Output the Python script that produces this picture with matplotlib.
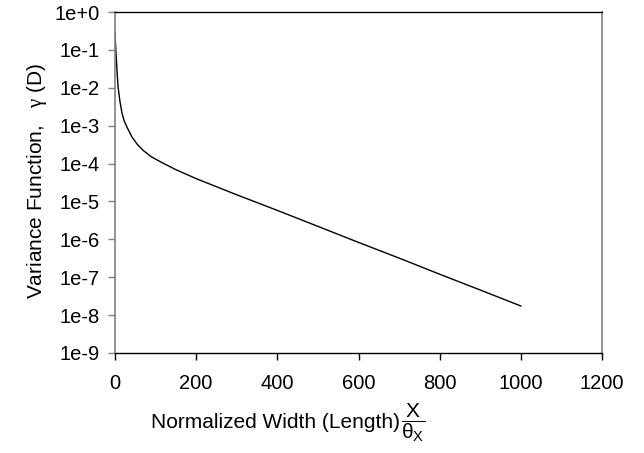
import matplotlib
matplotlib.use('Agg')
import matplotlib.pyplot as plt

plt.rcParams['font.family'] = ['Liberation Sans', 'DejaVu Sans']
plt.rcParams['mathtext.fontset'] = 'custom'
plt.rcParams['mathtext.rm'] = 'Liberation Sans'
plt.rcParams['mathtext.it'] = 'Liberation Serif'

# 曲线数据
width = [0, 1, 2.5, 5, 7.5, 12, 17, 22, 30, 42, 55, 70, 90, 115, 150, 200,
         300, 400, 500, 600, 700, 800, 900, 1000]
variance = [3.0e-1, 1.6e-1, 8.1e-2, 2.8e-2, 1.07e-2, 4.5e-3, 2.2e-3, 1.4e-3,
            8.9e-4, 5.0e-4, 3.2e-4, 2.2e-4, 1.5e-4, 1.07e-4, 6.9e-5, 4.0e-5,
            1.5e-5, 5.8e-6, 2.2e-6, 8.3e-7, 3.2e-7, 1.2e-7, 4.6e-8, 1.74e-8]

x_ticks = [0, 200, 400, 600, 800, 1000, 1200]
y_ticks = [1e-9, 1e-8, 1e-7, 1e-6, 1e-5, 1e-4, 1e-3, 1e-2, 1e-1, 1e0]
y_labels = ['1e-9', '1e-8', '1e-7', '1e-6', '1e-5', '1e-4', '1e-3',
            '1e-2', '1e-1', '1e+0']

fig = plt.figure(figsize=(6.44, 4.53), dpi=100)
ax = fig.add_axes([115 / 644, 1 - 353 / 453, 487 / 644, 341 / 453])

ax.plot(width, variance, color='black', lw=1.0)

ax.set_yscale('log')
ax.set_xlim(0, 1200)
ax.set_ylim(1e-9, 1)
ax.set_xticks(x_ticks)
ax.set_xticklabels([str(t) for t in x_ticks])
ax.set_yticks(y_ticks)
ax.set_yticklabels(y_labels)
ax.yaxis.set_minor_locator(matplotlib.ticker.NullLocator())

ax.tick_params(axis='both', labelsize=14.5, direction='out', length=5,
               width=1)
ax.tick_params(axis='y', colors='#808080', labelcolor='black', pad=6)
ax.tick_params(axis='x', colors='black', labelcolor='black', pad=10)

for side in ['left', 'right']:
    ax.spines[side].set_color('#808080')
    ax.spines[side].set_linewidth(1.2)
for side in ['top', 'bottom']:
    ax.spines[side].set_color('black')
    ax.spines[side].set_linewidth(1.0)

# 坐标轴标题
fig.text(37 / 644, 1 - 181 / 453, r'Variance Function,   $\gamma$ (D)',
         rotation=90, ha='center', va='center', fontsize=15)
fig.text(400 / 644, 1 - 422 / 453, 'Normalized Width (Length)',
         ha='right', va='center', fontsize=15)
fig.text(401 / 644, 1 - 423 / 453, r'$\dfrac{\mathrm{X}}{\mathrm{θ}_\mathrm{X}}$',
         ha='left', va='center', fontsize=15)

fig.savefig('out.png', dpi=100)
